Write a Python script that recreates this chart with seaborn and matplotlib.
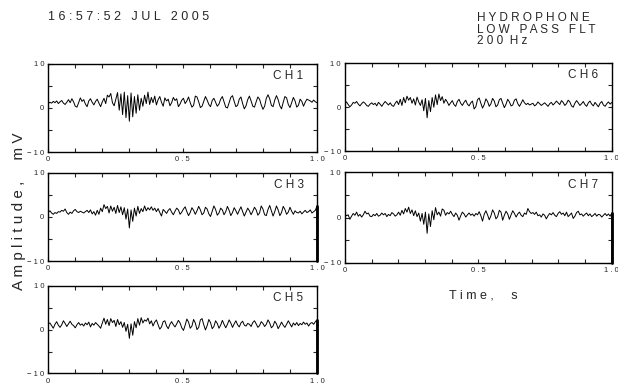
import numpy as np
import pandas as pd
import seaborn as sns
import matplotlib.pyplot as plt
from matplotlib.ticker import MultipleLocator

# amplitude samples (mV), 160 per channel over 1 s
ch1 = [1.0, 1.3, 1.1, 1.5, 1.2, 1.6, 1.0, 1.4, 1.7, 1.1, 0.8, 1.3, 1.9, 1.2, 2.1, 1.4,
       0.4, 0.2, 1.2, 2.3, 1.5, 1.9, 0.9, 0.3, 1.6, 2.1, 1.3, 0.7, 1.5, 2.0, 1.1, 0.3,
       1.4, 2.2, 1.0, 2.9, 2.5, 3.3, 1.2, 0.5, 2.0, 3.5, -0.5, 3.2, -1.5, 3.6, -2.2, 2.8,
       -3.0, 3.4, -2.0, 2.6, -1.2, 3.0, -0.5, 2.2, 0.4, 2.9, 1.0, 3.6, 0.8, 2.4, 1.2, 2.7,
       0.7, 1.9, 2.6, 1.3, 0.4, 2.3, 1.6, 2.0, 0.5, 1.2, 2.4, 1.7, 2.1, 0.3, 0.9, 1.8,
       2.2, 1.0, 1.6, 2.5, 1.2, 0.2, 0.6, 2.7, 2.5, 1.4, 0.1, 0.4, 1.5, 2.6, 1.8, 0.8,
       0.3, 1.7, 2.2, 1.3, 0.4, 0.9, 2.0, 2.6, 1.4, 0.2, 0.0, 1.2, 2.4, 2.8, 1.5, 0.3,
       0.6, 2.0, 2.5, 1.0, -0.2, 0.5, 1.9, 2.7, 1.6, 0.4, 0.2, 1.4, 2.5, 2.0, 0.7, -0.3,
       0.4, 2.2, 3.0, 2.1, 0.6, 0.3, 1.8, 2.8, 1.9, 0.5, -0.2, 1.3, 2.6, 2.3, 0.8, 0.1,
       1.2, 2.4, 1.6, 0.2, 0.6, 2.0, 1.5, 0.4, 1.3, 2.0, 1.8, 1.6, 1.3, 1.8, 1.4, 1.2]

ch6 = [0.8, 1.2, 0.6, 0.1, 0.5, 1.1, 0.9, 1.3, 0.7, 0.3, 0.8, 1.2, 0.9, 0.4, 0.2, 0.7,
       1.0, 0.6, 0.9, 0.3, 1.1, 0.7, 0.2, 0.8, 1.3, 0.9, 0.5, 1.0, 0.4, 0.2, 0.9, 1.4,
       0.6, 1.8, 0.4, 2.2, 1.0, 2.5, 1.6, 2.2, 0.9, 1.9, 0.5, 2.3, 1.2, 0.4, 1.7, -0.8,
       2.0, -2.4, 1.5, -1.0, 2.2, 0.0, 2.8, 0.6, 3.0, 1.5, 2.4, 0.9, 1.8, 1.2, 0.4, 1.0,
       1.5, 0.6, 0.2, 1.3, 1.8, 0.9, 0.4, 1.1, 1.6, 0.7, 0.3, 1.0, 1.4, -0.4, 0.1, 1.7,
       2.1, 0.9, -0.2, 0.6, 1.9, 1.3, 0.2, 0.8, 2.0, 1.4, 0.1, 0.5, 1.7, 2.0, 0.9, -0.1,
       0.7, 1.8, 1.2, 0.3, 0.5, 1.6, 1.9, 0.8, 0.2, 0.9, 1.7, 1.0, 0.6, 0.9, 0.5, 0.7,
       0.9, 0.3, 0.6, 1.2, 0.8, 0.4, 0.7, 1.0, 0.6, 0.2, 0.8, 1.1, 0.5, 0.9, 1.4, 1.0,
       0.6, 1.5, 1.1, 0.4, 0.8, 1.6, 1.2, 0.3, 0.0, 0.9, 1.5, 1.0, 0.4, 0.8, 1.3, 0.6,
       0.2, 1.0, 1.4, 0.7, 0.3, 1.1, 0.6, 0.1, 0.9, 1.3, 0.5, 0.2, 0.8, 1.2, 0.7, 1.1]

ch3 = [1.0, 1.4, 0.9, 0.6, 1.0, 0.8, 1.2, 1.1, 1.5, 1.3, 1.8, 1.0, 0.6, 1.1, 0.8, 1.4,
       1.7, 1.2, 1.0, 1.3, 1.1, 0.9, 1.2, 1.5, 1.0, 1.6, 0.7, 1.2, 0.4, 1.5, 0.6, 2.0,
       1.2, 2.8, 1.9, 2.4, 0.9, 2.5, 1.3, 2.2, 0.8, 2.6, 1.0, 2.3, 0.5, 2.1, -0.5, 1.8,
       -2.5, 1.6, -1.0, 2.0, 0.2, 2.4, 0.8, 1.9, 1.2, 2.5, 1.4, 2.1, 1.6, 2.3, 1.5, 2.0,
       1.2, 1.9, 1.0, 0.2, 1.7, 1.3, 0.8, 1.5, 1.9, 1.1, 0.5, 1.3, 2.0, 1.6, 0.6, 1.1,
       1.8, 2.3, 1.2, 0.3, 1.0, 2.1, 1.5, 0.6, 1.4, 2.4, 1.6, 0.5, 0.9, 2.2, 1.8, 0.7,
       0.1, 1.3, 2.5, 1.7, 0.4, 0.9, 2.0, 1.6, 0.5, 1.2, 2.4, 1.5, 0.3, 1.0, 2.1, 1.4,
       0.6, 1.5, 2.3, 1.2, 0.2, 1.1, 2.0, 1.4, 0.5, 1.3, 2.2, 1.6, 0.4, 0.9, 2.5, 1.8,
       0.5, 0.3, 1.7, 2.6, 1.4, 0.2, 1.2, 2.5, 1.6, 0.3, 1.0, 2.4, 1.7, 0.6, 1.1, 2.2,
       1.3, 0.6, 1.4, 1.0, 0.9, 1.3, 0.7, 1.1, 1.5, 1.0, 1.2, 1.6, 0.9, 1.2, 1.5, 2.5]

ch7 = [0.8, 0.4, 0.6, -0.4, 0.3, 0.9, 0.5, 1.2, 0.3, 0.7, 0.1, 0.6, 1.4, 0.8, 1.0, 0.3,
       0.2, 0.7, 0.4, 0.9, 0.3, 0.5, 1.0, 0.6, 0.9, 0.2, 0.7, 0.4, 1.1, 0.8, 0.3, 0.6,
       1.2, 0.5, 1.6, 0.8, 2.0, 1.2, 2.3, 0.9, 1.7, 0.4, 1.5, 0.2, 1.0, -0.8, 0.9, -1.5,
       1.2, -3.5, 0.8, -2.0, 1.5, -0.5, 2.2, 0.6, 1.2, 0.3, 1.9, 1.6, 0.5, 1.1, 0.8, 1.4,
       0.7, 0.2, 1.0, 0.5, -0.6, 0.4, 1.2, 0.8, 0.1, 0.6, 1.0, 0.5, 0.8, 0.3, 0.9, 0.6,
       1.3, 0.4, -0.8, 0.7, 1.5, 0.6, -0.5, 0.4, 1.7, 1.0, -0.3, 0.2, 1.6, 1.2, -0.6, 0.5,
       1.4, 0.8, -0.4, 0.6, 1.5, 0.9, 0.1, 0.8, 1.2, 0.5, 0.2, 1.0, 0.7, 2.0, 1.3, 0.9,
       1.1, 0.7, 1.2, 0.4, 0.6, 0.1, 0.8, 0.5, -0.3, 0.4, 0.9, 0.6, 1.1, 0.5, 0.2, 0.9,
       1.3, 0.7, 1.0, 0.4, 1.2, 0.2, 0.6, 1.0, -0.2, 0.3, 1.1, 1.4, 0.6, 0.8, 0.3, 0.7,
       1.0, 0.4, 0.8, 0.2, 0.5, 0.9, 0.3, 0.7, 0.6, 0.1, 0.5, 0.9, 0.4, 0.8, 0.3, 1.0]

ch5 = [1.3, 1.5, 0.9, 0.3, 1.2, 1.8, 1.0, 0.5, 1.1, 2.0, 1.4, 0.7, 1.3, 1.9, 1.2, 0.9,
       0.4, 1.1, 1.6, 1.0, 1.3, 0.8, 1.5, 1.1, 1.7, 0.6, 1.4, 1.0, 1.6, 1.2, 0.8, 0.3,
       1.5, 2.6, 1.2, 2.3, 0.9, 2.5, 1.6, 2.1, 0.7, 2.3, 1.1, 1.8, 0.5, 1.6, -0.4, 1.2,
       -2.0, 1.3, -1.3, 1.8, 0.4, 2.5, 1.0, 2.7, 1.5, 2.2, 1.9, 2.6, 1.3, 2.0, 0.8, 1.7,
       2.2, 1.1, 0.1, 0.6, 1.8, 2.0, 0.8, 0.2, 1.2, 1.8, 1.1, 0.6, 1.3, 2.1, 1.5, 0.4,
       -0.2, 1.0, 2.4, 1.7, 0.3, 0.8, 2.3, 1.5, 0.0, 0.5, 2.2, 2.5, 1.1, -0.1, 0.9, 2.3,
       1.6, 0.2, 0.7, 2.0, 1.4, 0.3, 1.0, 2.1, 1.2, 0.4, 1.2, 2.2, 1.5, 0.5, 1.3, 2.0,
       1.1, 0.6, 1.5, 1.9, 1.0, 0.8, 1.4, 1.2, 0.7, 1.6, 2.0, 1.3, 0.5, 0.9, 1.8, 1.4,
       0.7, 1.2, 2.2, 1.5, 0.4, 0.8, 1.9, 1.3, 0.2, 0.9, 1.7, 1.0, 0.5, 1.2, 2.0, 1.3,
       0.6, 1.5, 1.0, 1.6, 0.9, 1.4, 1.1, 1.7, 1.2, 1.5, 0.8, 1.4, 1.6, 1.2, 1.8, 2.2]

channels = ['CH1', 'CH6', 'CH3', 'CH7', 'CH5']
traces = [ch1, ch6, ch3, ch7, ch5]
# channels whose record ends with a drop to the bottom of the scale
end_drop = {'CH3': -10, 'CH7': -10, 'CH5': -10}

sns.set_style("ticks")
plt.rcParams['font.family'] = ['Liberation Sans', 'DejaVu Sans']

fig = plt.figure(figsize=(6.18, 3.85), dpi=100)

# axes boxes [left, bottom, width, height] in figure fraction
boxes = {
    'CH1': [0.078, 0.605, 0.435, 0.229],
    'CH6': [0.558, 0.607, 0.432, 0.229],
    'CH3': [0.078, 0.322, 0.435, 0.229],
    'CH7': [0.558, 0.318, 0.432, 0.234],
    'CH5': [0.078, 0.030, 0.435, 0.228],
}

def spaced(s):
    return ' '.join(s)

for name, vals in zip(channels, traces):
    ax = fig.add_axes(boxes[name])
    t = list(np.linspace(0, 1, len(vals)))
    y = list(vals)
    if name in end_drop:
        t.append(1.0)
        y.append(end_drop[name])
    df = pd.DataFrame({'t': t, 'amp': y})
    sns.lineplot(data=df, x='t', y='amp', ax=ax, color='black', lw=0.7,
                 estimator=None, sort=False)
    if name in end_drop:
        # the final drop sits on the right frame and shows as a heavier edge
        ax.plot([1.0, 1.0], [y[-2], end_drop[name]], color='black', lw=2.0,
                clip_on=False)
    ax.set_xlim(0, 1)
    ax.set_ylim(-10, 10)
    ax.set_xlabel('')
    ax.set_ylabel('')
    ax.set_xticks([0, 0.5, 1.0])
    ax.set_xticklabels(['0', spaced('0.5'), spaced('1.0')])
    ax.xaxis.set_minor_locator(MultipleLocator(0.1))
    ax.set_yticks([-10, 0, 10])
    ax.set_yticklabels(['\u2212 1 0', '0', '1 0'])
    ax.yaxis.set_minor_locator(MultipleLocator(5))
    ax.tick_params(which='both', direction='in', top=True, right=True,
                   labelsize=5.5, pad=3, width=0.8)
    ax.tick_params(which='major', length=3)
    ax.tick_params(which='minor', length=3)
    for sp in ax.spines.values():
        sp.set_linewidth(1.0)
        sp.set_color('black')
    ax.text(0.95, 0.86, spaced(name), transform=ax.transAxes, ha='right',
            va='center', fontsize=8.5)

fig.text(0.078, 0.955, '1 6 : 5 7 : 5 2   J U L   2 0 0 5', fontsize=9,
         ha='left', va='center')
fig.text(0.772, 0.968, 'H Y D R O P H O N E\nL O W   P A S S   F L T\n2 0 0  H z',
         fontsize=8.5, ha='left', va='top', linespacing=0.95)
fig.text(0.03, 0.45, 'A m p l i t u d e ,     m V', fontsize=11, rotation=90,
         ha='center', va='center')
fig.text(0.782, 0.233, 'T i m e ,     s', fontsize=9, ha='center', va='center')

fig.savefig('out.png', dpi=100)
